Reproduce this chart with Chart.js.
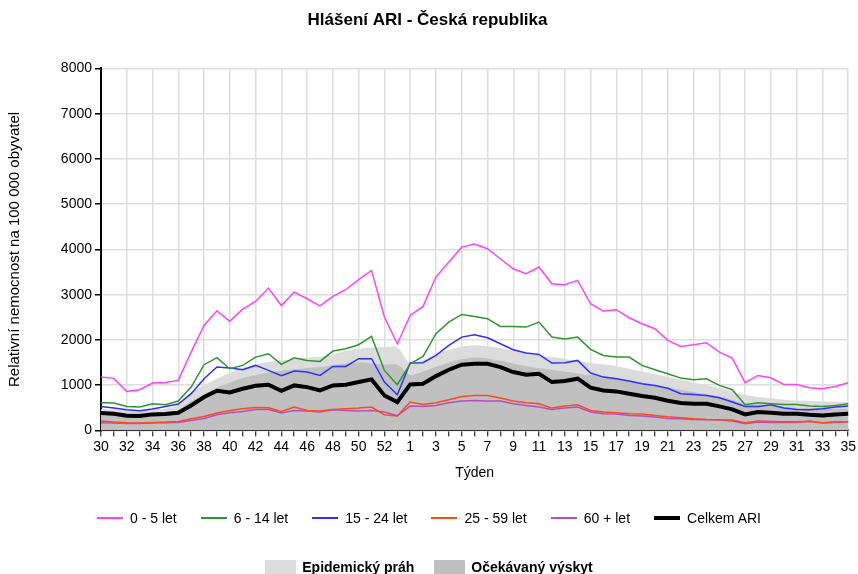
<!DOCTYPE html>
<html>
<head>
<meta charset="utf-8">
<script src="https://cdn.jsdelivr.net/npm/chart.js@4.4.0/dist/chart.umd.min.js"></script>
<style>
  html, body { margin: 0; padding: 0; background: #fff; }
  #wrap { position: relative; width: 858px; height: 574px; font-family: "Liberation Sans", Arial, sans-serif; }
  #myChart { position: absolute; left: 0; top: 0; }
  .legend-row { position: absolute; left: 0; width: 858px; display: flex; justify-content: center; align-items: center; font-size: 14px; color: #000; }
  .legend-item { display: flex; align-items: center; margin: 0 12px; white-space: nowrap; }
  .legend-line { width: 26px; margin-right: 7px; }
  .legend-box { width: 31px; height: 15px; margin-right: 6px; }
  #legend2 .legend-item { margin: 0 10px; }
  #legend2 { font-weight: bold; }
</style>
</head>
<body>
<div id="wrap">
  <canvas id="myChart" width="858" height="574"></canvas>
  <div id="legend1" class="legend-row" style="top: 508px; height: 20px;"></div>
  <div id="legend2" class="legend-row" style="top: 558px; height: 18px;"></div>
</div>
<script>
// weeks 30..53 then 1..35
const weeks = ['30','31','32','33','34','35','36','37','38','39','40','41','42','43','44','45','46','47','48','49','50','51','52','53',
  '1','2','3','4','5','6','7','8','9','10','11','12','13','14','15','16','17','18','19','20','21','22','23','24','25','26','27','28','29','30','31','32','33','34','35'];

const age0_5 = [1180,1150,860,900,1045,1060,1105,1730,2320,2645,2410,2680,2850,3145,2760,3057,2910,2751,2961,3109,3330,3536,2505,1915,
  2541,2740,3389,3720,4050,4120,4015,3794,3573,3462,3610,3241,3219,3315,2799,2637,2667,2490,2357,2247,1989,1856,1893,1937,1730,1598,1053,1215,1164,1016,1016,943,921,972,1053];

const age6_14 = [612,604,530,515,590,568,648,957,1452,1607,1363,1436,1620,1694,1458,1606,1547,1525,1753,1805,1893,2077,1326,1009,
  1473,1635,2136,2394,2563,2519,2468,2298,2298,2283,2394,2062,2018,2062,1790,1657,1620,1620,1436,1341,1252,1156,1120,1142,994,899,568,611,590,575,575,538,530,552,590];

const age15_24 = [530,493,457,435,471,530,581,811,1142,1400,1377,1340,1436,1326,1210,1311,1289,1215,1414,1414,1584,1584,1068,788,
  1488,1495,1657,1878,2062,2114,2048,1915,1783,1709,1680,1488,1495,1547,1267,1178,1142,1090,1031,994,930,810,796,773,722,626,530,530,568,493,464,457,479,515,538];

const age25_59 = [206,184,169,162,177,184,199,258,309,383,442,479,508,501,420,515,442,427,464,479,493,515,346,317,
  626,575,611,678,751,773,773,714,648,611,590,493,538,568,442,405,390,368,361,331,300,280,258,243,236,228,169,206,199,191,191,199,169,191,191];

const age60plus = [169,165,150,150,165,170,177,221,265,346,390,420,464,464,383,442,427,405,457,442,427,442,405,324,
  538,530,552,611,648,663,648,648,590,552,515,464,493,515,405,368,361,331,317,295,265,258,243,236,228,206,147,184,177,177,177,206,162,177,184];

const totalARI = [383,368,324,317,354,361,390,552,737,877,840,921,987,1009,873,994,957,884,994,1009,1068,1127,773,626,
  1016,1031,1200,1341,1451,1473,1473,1400,1289,1230,1252,1068,1090,1142,943,884,862,810,759,722,655,604,590,590,530,464,354,405,390,368,368,346,331,354,368];

const epidemicThreshold = [470,460,450,450,460,480,560,850,1000,1140,1270,1380,1450,1510,1550,1580,1610,1630,1680,1760,1800,1830,1840,1840,
  1480,1560,1680,1780,1850,1880,1860,1820,1760,1700,1660,1620,1580,1540,1490,1460,1420,1360,1300,1240,1180,1120,1060,1000,940,860,780,740,710,680,660,650,640,630,630];

const expectedLevel = [410,400,390,390,400,410,450,650,800,950,1060,1160,1220,1280,1320,1350,1380,1400,1440,1480,1500,1480,1450,1450,
  1230,1300,1400,1500,1570,1610,1590,1540,1480,1420,1380,1340,1300,1260,1220,1200,1160,1100,1050,1000,950,900,850,800,750,680,600,570,550,520,500,490,485,480,480];

const yTicks = [0,1000,2000,3000,4000,5000,6000,7000,8000];

const lineSeries = [
  { label: '0 - 5 let', data: age0_5, color: '#ff40ff', width: 1.5 },
  { label: '6 - 14 let', data: age6_14, color: '#2f962f', width: 1.5 },
  { label: '15 - 24 let', data: age15_24, color: '#2f2fff', width: 1.5 },
  { label: '25 - 59 let', data: age25_59, color: '#ff4a1a', width: 1.5 },
  { label: '60 + let', data: age60plus, color: '#b450c4', width: 1.5 },
  { label: 'Celkem ARI', data: totalARI, color: '#000000', width: 4 }
];
const bandSeries = [
  { label: 'Epidemický práh', data: epidemicThreshold, color: '#dcdcdc' },
  { label: 'Očekávaný výskyt', data: expectedLevel, color: '#c0c0c0' }
];

Chart.defaults.font.family = '"Liberation Sans", Arial, sans-serif';
Chart.defaults.color = '#000';

// black line on top, bands at the bottom (expected over threshold)
const datasets = [];
datasets.push({ label: 'Celkem ARI', data: totalARI, borderColor: '#000', borderWidth: 4, pointRadius: 0, fill: false, tension: 0 });
lineSeries.slice(0, 5).forEach(s => {
  datasets.push({ label: s.label, data: s.data, borderColor: s.color, borderWidth: s.width, pointRadius: 0, fill: false, tension: 0 });
});
datasets.push({ label: bandSeries[1].label, data: expectedLevel, borderWidth: 0, borderColor: 'rgba(0,0,0,0)', backgroundColor: bandSeries[1].color, pointRadius: 0, fill: 'origin', tension: 0.3 });
datasets.push({ label: bandSeries[0].label, data: epidemicThreshold, borderWidth: 0, borderColor: 'rgba(0,0,0,0)', backgroundColor: bandSeries[0].color, pointRadius: 0, fill: 'origin', tension: 0.3 });

const ctx = document.getElementById('myChart');
const myChart = new Chart(ctx, {
  type: 'line',
  data: { labels: weeks, datasets: datasets },
  options: {
    responsive: false,
    animation: false,
    layout: { padding: { left: 6, right: 9, top: 0, bottom: 92 } },
    plugins: {
      legend: { display: false },
      tooltip: { enabled: false },
      title: {
        display: true,
        text: 'Hlášení ARI - Česká republika',
        font: { size: 17, weight: 'bold' },
        padding: { top: 10, bottom: 38 }
      }
    },
    scales: {
      x: {
        grid: {
          color: c => (c.index % 2 === 0 ? '#dedede' : 'rgba(0,0,0,0)'),
          lineWidth: 1.5,
          tickColor: '#000',
          tickLength: 6,
          tickWidth: 1
        },
        border: { color: '#000', width: 2 },
        ticks: {
          autoSkip: false,
          maxRotation: 0,
          padding: 2,
          font: { size: 14 },
          callback: function (v, i) { return i % 2 === 0 ? weeks[i] : ''; }
        },
        title: { display: true, text: 'Týden', font: { size: 14 }, padding: { top: 8, bottom: 0 } }
      },
      y: {
        min: 0,
        max: 8000,
        afterBuildTicks: s => { s.ticks = yTicks.map(v => ({ value: v })); },
        afterFit: s => { s.width = 95; },
        grid: { color: '#dedede', lineWidth: 1.5, tickColor: '#000', tickLength: 6 },
        border: { color: '#000', width: 2 },
        ticks: { padding: 3, font: { size: 14 }, callback: v => String(v) },
        title: { display: true, text: 'Relativní nemocnost na 100 000 obyvatel', font: { size: 15 }, padding: 0 }
      }
    }
  }
});

// HTML legend
const legend1 = document.getElementById('legend1');
lineSeries.forEach(s => {
  const item = document.createElement('div');
  item.className = 'legend-item';
  item.innerHTML = '<span class="legend-line" style="height:' + (s.width > 2 ? 4 : 2) + 'px;background:' + s.color + '"></span><span>' + s.label + '</span>';
  legend1.appendChild(item);
});
const legend2 = document.getElementById('legend2');
bandSeries.forEach(s => {
  const item = document.createElement('div');
  item.className = 'legend-item';
  item.innerHTML = '<span class="legend-box" style="background:' + s.color + '"></span><span>' + s.label + '</span>';
  legend2.appendChild(item);
});
</script>
</body>
</html>
